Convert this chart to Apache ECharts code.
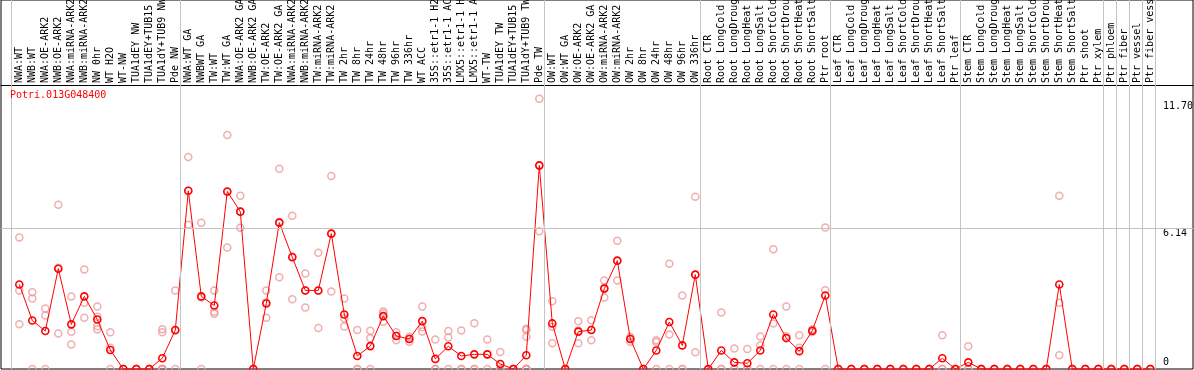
<!DOCTYPE html>
<html>
<head>
<meta charset="utf-8">
<script src="https://cdn.jsdelivr.net/npm/echarts@6/dist/echarts.min.js"></script>
<style>
html,body{margin:0;padding:0;background:#fff;}
#chart{width:1194px;height:370px;}
</style>
</head>
<body>
<div id="chart"></div>
<script>
const geneName = 'Potri.013G048400';

const categories = [
  'NWA:WT','NWB:WT','NWA:OE-ARK2','NWB:OE-ARK2','NWA:miRNA-ARK2','NWB:miRNA-ARK2','NW 0hr','WT H2O','WT-NW','TUA1dEY NW','TUA1dEY+TUB15 NW','TUA1dY+TUB9 NW','Pde NW',
  'NWA:WT GA','NWBWT GA','TW:WT','TW:WT GA','NWA:OE-ARK2 GA','NWB:OE-ARK2 GA','TW:OE-ARK2','TW:OE-ARK2 GA','NWA:miRNA-ARK2','NWB:miRNA-ARK2','TW:miRNA-ARK2','TW:miRNA-ARK2',
  'TW 2hr','TW 8hr','TW 24hr','TW 48hr','TW 96hr','TW 336hr','WT ACC','35S::etr1-1 H2O','35S::etr1-1 ACC','LMX5::etr1-1 H2O','LMX5::etr1-1 ACC','WT-TW','TUA1dEY TW','TUA1dEY+TUB15 TW','TUA1dY+TUB9 TW','Pde TW',
  'OW:WT','OW:WT GA','OW:OE-ARK2','OW:OE-ARK2 GA','OW:miRNA-ARK2','OW:miRNA-ARK2','OW 2hr','OW 8hr','OW 24hr','OW 48hr','OW 96hr','OW 336hr',
  'Root CTR','Root LongCold','Root LongDrought','Root LongHeat','Root LongSalt','Root ShortCold','Root ShortDrought','Root ShortHeat','Root ShortSalt','Ptr root',
  'Leaf CTR','Leaf LongCold','Leaf LongDrought','Leaf LongHeat','Leaf LongSalt','Leaf ShortCold','Leaf ShortDrought','Leaf ShortHeat','Leaf ShortSalt','Ptr leaf',
  'Stem CTR','Stem LongCold','Stem LongDrought','Stem LongHeat','Stem LongSalt','Stem ShortCold','Stem ShortDrought','Stem ShortHeat','Stem ShortSalt','Ptr shoot',
  'Ptr xylem','Ptr phloem','Ptr fiber','Ptr vessel','Ptr fiber vessel'
];

const meanValues = [
  3.69, 2.12, 1.66, 4.38, 1.95, 3.17, 2.16, 0.83, 0, 0, 0, 0.47, 1.70,
  7.78, 3.17, 2.77, 7.75, 6.87, 0, 2.86, 6.39, 4.88, 3.43, 3.43, 5.91,
  2.38, 0.57, 1.00, 2.31, 1.44, 1.31, 2.09, 0.44, 0.99, 0.57, 0.64, 0.64, 0.22, 0, 0.60, 8.89,
  1.99, 0, 1.63, 1.70, 3.51, 4.73, 1.31, 0, 0.81, 2.05, 1.03, 4.12,
  0, 0.81, 0.29, 0.25, 0.81, 2.38, 1.35, 0.78, 1.67, 3.21,
  0, 0, 0, 0, 0, 0, 0, 0, 0.47, 0,
  0.29, 0, 0, 0, 0, 0, 0, 3.69, 0, 0,
  0, 0, 0, 0, 0
];

const replicateValues = [
  [5.74, 3.43, 1.95], [3.35, 3.08, 0], [2.64, 2.34, 0], [7.17, 4.42, 1.55], [3.17, 1.63, 1.07],
  [4.34, 2.89, 2.24], [2.73, 2.28, 1.87, 1.73], [1.60, 0.93, 0], [0, 0, 0], [0, 0, 0],
  [0, 0, 0], [1.74, 1.60, 0, 0, 0, 0, 0], [3.43, 1.67, 0],
  [9.26, 7.78, 6.30], [6.39, 3.12, 0], [3.43, 2.50, 2.41], [10.22, 7.73, 5.30], [7.56, 6.88, 6.17],
  [0, 0, 0], [3.43, 2.91, 2.24], [8.74, 6.42, 4.01], [6.69, 4.91, 3.04], [4.17, 3.43, 2.69],
  [5.08, 3.42, 1.79], [8.43, 5.92, 3.38],
  [3.08, 2.21, 1.86], [1.70, 0, 0], [1.67, 1.34, 0], [2.51, 2.42, 2.06], [1.60, 1.45, 1.26],
  [1.41, 1.32, 1.19], [2.73, 1.82, 1.64], [1.29, 0, 0], [1.66, 1.38, 0], [1.68, 0, 0],
  [2.00, 0, 0], [1.29, 0.63, 0], [0.74, 0, 0], [0, 0, 0], [1.76, 1.70, 1.41, 0, 0, 0, 0, 0],
  [11.80, 8.86, 6.01],
  [2.96, 1.84, 1.12], [0, 0, 0], [2.09, 1.68, 1.12], [2.13, 1.71, 1.26], [3.86, 3.55, 3.12],
  [5.60, 4.73, 3.86], [1.41, 1.33, 1.19], [0, 0, 0], [1.26, 1.18, 0], [4.60, 1.51, 0],
  [3.21, 0, 0], [7.52, 4.11, 0.73],
  [0, 0, 0], [2.47, 0, 0], [0.90, 0, 0], [0.87, 0, 0], [1.42, 1.03, 0],
  [5.23, 1.99, 0], [2.73, 1.43, 0], [1.47, 0.93, 0], [1.73, 1.66, 1.62], [6.18, 3.44, 0],
  [0, 0, 0], [0, 0, 0], [0, 0, 0], [0, 0, 0], [0, 0, 0],
  [0, 0, 0], [0, 0, 0], [0, 0, 0], [1.47, 0, 0], [0, 0, 0],
  [0.99, 0, 0], [0, 0, 0], [0, 0, 0], [0, 0, 0], [0, 0, 0],
  [0, 0, 0], [0, 0, 0], [7.56, 2.89, 0.60], [0, 0, 0], [0, 0, 0],
  [0, 0, 0], [0, 0, 0], [0, 0, 0], [0, 0, 0], [0, 0, 0]
];

// last category index of each group (-1 = left edge of first group)
const groupEnds = [-1, 12, 40, 52, 62, 72, 83, 84, 85, 86, 87];

const yTickValues = [0, 6.14, 11.70];
const yTickLabels = ['0', '6.14', '11.70'];
const gridLineValues = [6.14];

// ---- build options ----
const catIdx = categories.map((c, i) => i);
const meanData = meanValues.map((v, i) => [i, v]);
const repData = [];
replicateValues.forEach((arr, i) => arr.forEach(v => repData.push([i, v])));

const FONT = 'DejaVu Sans Mono';
const GRAY = '#c4c4c4';
const yLabel = v => yTickLabels[yTickValues.indexOf(v)];

const chart = echarts.init(document.getElementById('chart'), null, {renderer: 'canvas'});
chart.setOption({
  animation: false,
  backgroundColor: '#fff',
  title: {
    text: geneName, left: 10, top: 90.5, padding: 0,
    textStyle: {color: '#ff0000', fontSize: 10, fontFamily: FONT, fontWeight: 'normal'}
  },
  grid: {
    left: 1, right: 1, top: 0, bottom: 1, containLabel: false, outerBoundsMode: 'none',
    show: true, borderColor: '#000', borderWidth: 1, backgroundColor: 'transparent'
  },
  xAxis: {
    type: 'value', min: -1.4077, max: 90.285, position: 'top', offset: -85,
    axisLine: {show: true, onZero: false, lineStyle: {color: '#000', width: 1}},
    axisTick: {show: false},
    splitLine: {show: false},
    axisLabel: {
      customValues: catIdx, formatter: v => categories[v], rotate: -90, margin: 2,
      fontSize: 10, fontFamily: FONT, color: '#000', showMinLabel: true, showMaxLabel: true
    }
  },
  yAxis: [
    {
      type: 'value', min: 0, max: 16.11, position: 'right',
      axisLine: {show: false}, axisTick: {show: false}, splitLine: {show: false},
      axisLabel: {
        customValues: yTickValues.slice(1), formatter: yLabel, inside: true, align: 'left',
        margin: 30, verticalAlign: 'top', fontSize: 10, fontFamily: FONT, color: '#000'
      }
    },
    {
      type: 'value', min: 0, max: 16.11, position: 'right',
      axisLine: {show: false}, axisTick: {show: false}, splitLine: {show: false},
      axisLabel: {
        customValues: yTickValues.slice(0, 1), formatter: yLabel, inside: true, align: 'left',
        margin: 30, verticalAlign: 'bottom', padding: [0, 0, 2, 0], fontSize: 10, fontFamily: FONT, color: '#000'
      }
    }
  ],
  series: [
    {
      type: 'scatter', name: 'replicates', data: repData, z: 2,
      symbol: 'circle', symbolSize: 7, clip: false,
      itemStyle: {color: 'transparent', borderColor: '#ec9a9a', borderWidth: 1.5},
      markLine: {
        silent: true, symbol: ['none', 'none'], label: {show: false}, animation: false,
        lineStyle: {color: GRAY, width: 1, type: 'solid'},
        data: groupEnds.map(e => ({xAxis: e + 0.38}))
          .concat(gridLineValues.map(v => ({yAxis: v})))
      }
    },
    {
      type: 'line', name: 'mean', data: meanData, z: 3,
      symbol: 'circle', symbolSize: 7, showAllSymbol: true, clip: false,
      lineStyle: {color: '#ff0000', width: 1},
      itemStyle: {color: 'transparent', borderColor: '#ff0000', borderWidth: 1.6}
    }
  ]
});
</script>
</body>
</html>
